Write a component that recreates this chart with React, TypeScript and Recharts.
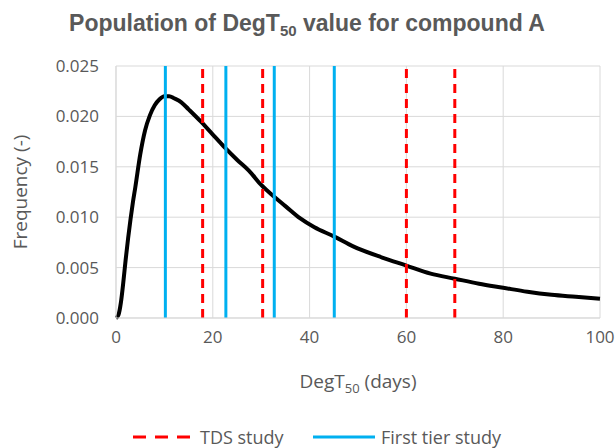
import React from "react";
import {
  LineChart,
  Line,
  XAxis,
  YAxis,
  CartesianGrid,
  ReferenceLine,
} from "recharts";

const degT50Days = [
  0, 0.5, 1, 1.5, 2, 2.5, 3, 3.5, 4, 5, 6, 7, 8, 9, 10, 11, 12, 13.5, 15, 17.5,
  20, 22.5, 25, 27.5, 30, 32.5, 35, 38, 41, 45, 49, 55, 60, 65, 70, 75, 80, 85,
  90, 95, 100,
];
const frequency = [
  0, 0.0003, 0.0015, 0.0035, 0.0058, 0.0079, 0.0098, 0.0115, 0.013, 0.0162,
  0.0186, 0.0201, 0.0211, 0.0217, 0.022, 0.022, 0.0218, 0.0214, 0.0207, 0.0195,
  0.0182, 0.0169, 0.0157, 0.0146, 0.0132, 0.0121, 0.0111, 0.0099, 0.009,
  0.0081, 0.0071, 0.006, 0.0052, 0.0044, 0.0039, 0.0034, 0.003, 0.0026, 0.0023,
  0.0021, 0.0019,
];
const tdsStudies = [17.9, 30.3, 60, 70];
const firstTierStudies = [10.2, 22.7, 32.7, 45.1];
const xTicks = [0, 20, 40, 60, 80, 100];
const yTicks = [0, 0.005, 0.01, 0.015, 0.02, 0.025];

const data = degT50Days.map((d, i) => ({ x: d, y: frequency[i] }));

const GRAY = "#595959";
const BLUE = "#00B0F0";
const RED = "#FF0000";
const FONT = "'Open Sans', sans-serif";

export default function App() {
  return (
    <div style={{ position: "absolute", left: 0, top: 0, width: 616, height: 448, background: "#fff" }}>
      <svg width={616} height={40} style={{ position: "absolute", left: 0, top: 0 }}>
        <text
          x={307}
          y={31}
          textAnchor="middle"
          fill={GRAY}
          style={{ fontFamily: "'Liberation Sans', Arial, sans-serif", fontWeight: 700, fontSize: 23 }}
        >
          Population of DegT<tspan fontSize={15} dy={5}>50</tspan>
          <tspan dy={-5}> value for compound A</tspan>
        </text>
      </svg>
      <LineChart
        width={616}
        height={448}
        data={data}
        margin={{ top: 66, right: 16, bottom: 70, left: 0 }}
        style={{ position: "absolute", left: 0, top: 0 }}
      >
        <CartesianGrid stroke="#d9d9d9" strokeWidth={1} />
        <XAxis
          dataKey="x"
          type="number"
          domain={[0, 100]}
          ticks={xTicks}
          height={60}
          tickLine={false}
          tickSize={0}
          tickMargin={13}
          axisLine={{ stroke: "#d9d9d9" }}
          tick={{ fill: GRAY, fontSize: 17, fontFamily: FONT }}
          label={(props: any) => {
            const vb = props.viewBox || {};
            const cx = (vb.x || 0) + (vb.width || 0) / 2;
            return (
              <text
                x={cx}
                y={388}
                textAnchor="middle"
                fill={GRAY}
                style={{ fontFamily: FONT, fontSize: 19 }}
              >
                DegT<tspan fontSize={13} dy={5}>50</tspan>
                <tspan dy={-5}> (days)</tspan>
              </text>
            );
          }}
        />
        <YAxis
          type="number"
          domain={[0, 0.025]}
          ticks={yTicks}
          width={116}
          tickLine={false}
          tickSize={0}
          tickMargin={17}
          axisLine={{ stroke: "#d9d9d9" }}
          tickFormatter={(v: number) => v.toFixed(3)}
          tick={{ fill: GRAY, fontSize: 17, fontFamily: FONT }}
          label={{
            value: "Frequency (-)",
            angle: -90,
            position: "insideLeft",
            offset: 20,
            style: { textAnchor: "middle", fill: GRAY, fontSize: 19, fontFamily: FONT },
          }}
        />
        <Line
          type="monotone"
          dataKey="y"
          stroke="#000"
          strokeWidth={4}
          dot={false}
          isAnimationActive={false}
        />
        {firstTierStudies.map((v) => (
          <ReferenceLine key={"b" + v} x={v} stroke={BLUE} strokeWidth={3} />
        ))}
        {tdsStudies.map((v) => (
          <ReferenceLine key={"r" + v} x={v} stroke={RED} strokeWidth={3} strokeDasharray="9 6" />
        ))}
      </LineChart>
      <svg width={616} height={30} style={{ position: "absolute", left: 0, top: 422 }}>
        <line x1={133} x2={193} y1={15} y2={15} stroke={RED} strokeWidth={3} strokeDasharray="13 9" />
        <text x={200} y={22} fill={GRAY} style={{ fontFamily: FONT, fontSize: 18 }}>
          TDS study
        </text>
        <line x1={313} x2={375} y1={15} y2={15} stroke={BLUE} strokeWidth={3} />
        <text x={381} y={22} fill={GRAY} style={{ fontFamily: FONT, fontSize: 18 }}>
          First tier study
        </text>
      </svg>
    </div>
  );
}
